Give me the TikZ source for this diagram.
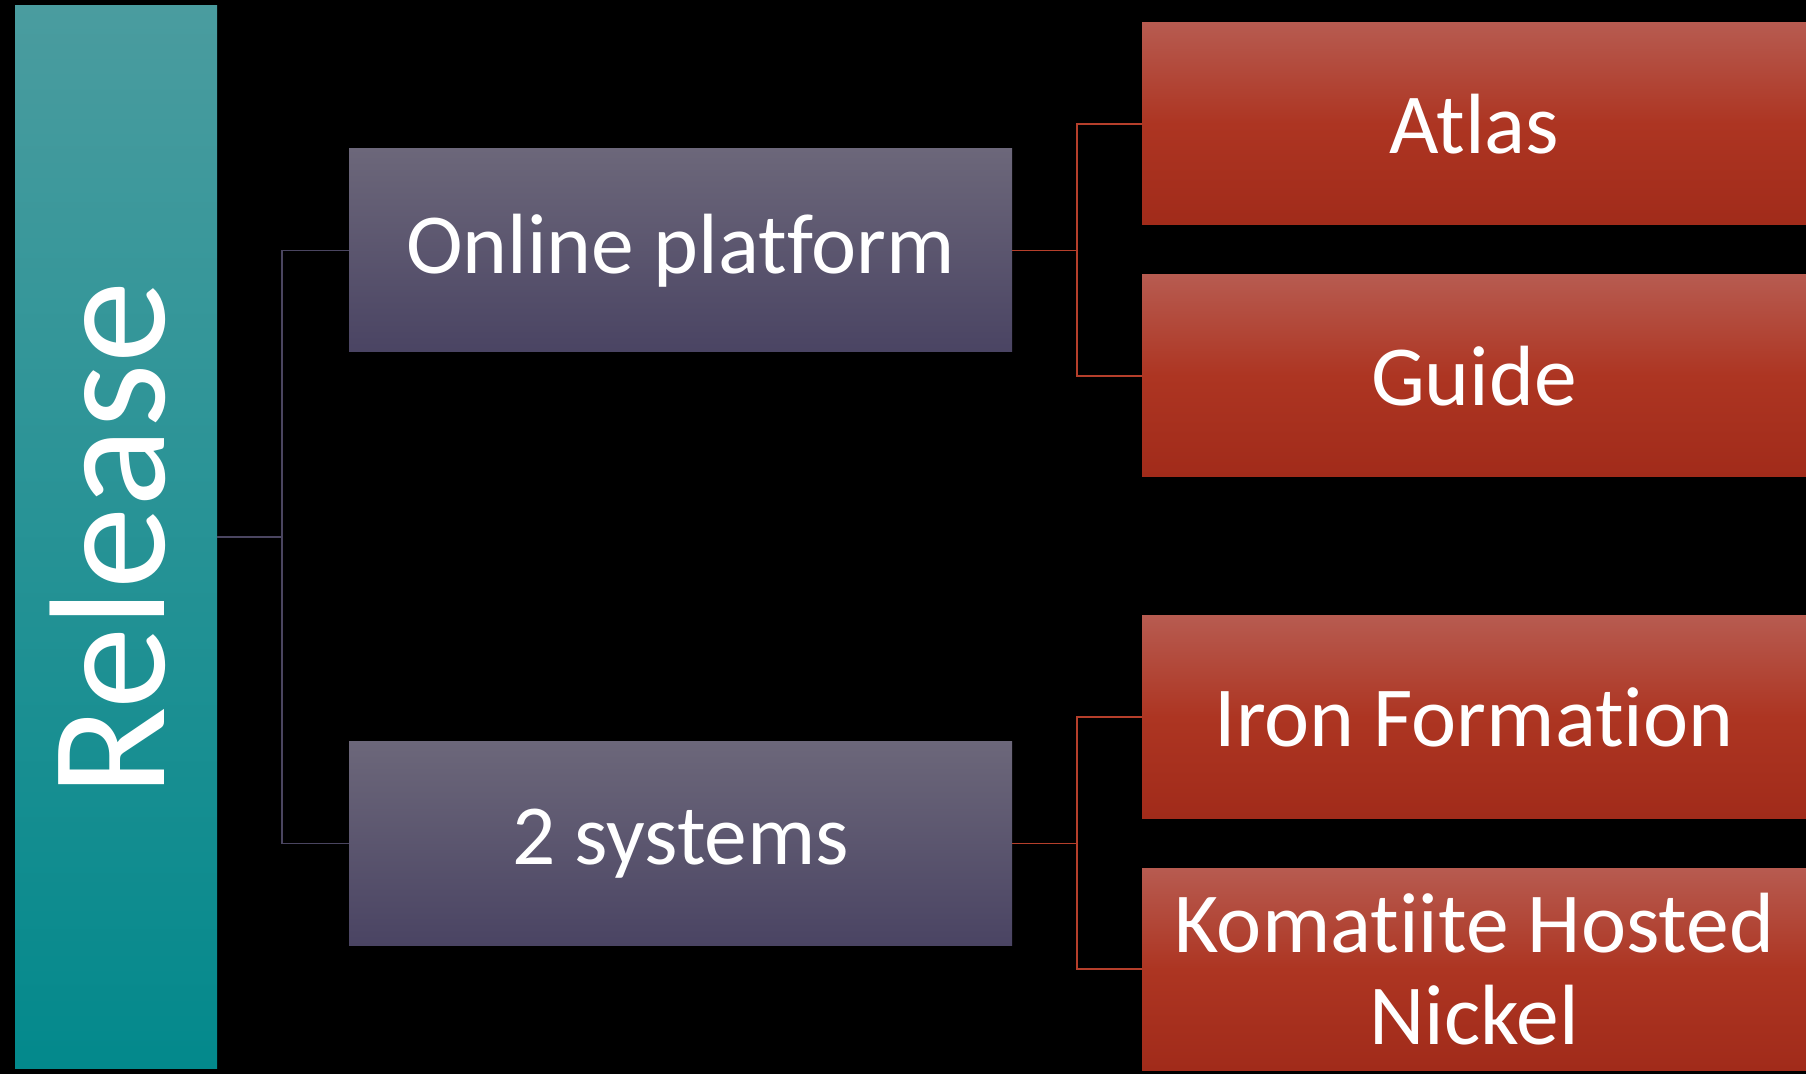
\documentclass[tikz,border=0pt]{standalone}
\usepackage{fontspec}
\setmainfont{Carlito}[Ligatures={NoCommon}]
\definecolor{tealtop}{HTML}{4A9C9F}
\definecolor{tealbot}{HTML}{03898C}
\definecolor{purtop}{HTML}{6C677A}
\definecolor{purbot}{HTML}{4A4463}
\definecolor{redtop}{HTML}{B75B50}
\definecolor{redmid}{HTML}{AD3522}
\definecolor{redbot}{HTML}{A12B1A}
\definecolor{purline}{HTML}{4A4560}
\definecolor{redline}{HTML}{B53F2B}
\tikzset{
  box/.style={rectangle, inner sep=0pt, text=white, align=center,
    font=\fontsize{85.5}{92}\selectfont},
  relbox/.style={box, top color=tealtop, bottom color=tealbot,
    minimum width=202pt, minimum height=1062pt},
  midbox/.style={box, top color=purtop, bottom color=purbot,
    minimum width=663pt, minimum height=203pt},
  leafbox/.style={box, top color=redtop, bottom color=redbot, middle color=redmid,
    minimum width=664pt, minimum height=202pt},
  purconn/.style={draw=purline, line width=1.8pt},
  redconn/.style={draw=redline, line width=1.8pt}
}
\begin{document}
\begin{tikzpicture}[x=1pt,y=1pt]
\fill[black] (0,0) rectangle (1806,1074);
\useasboundingbox (0,0) rectangle (1806,1074);
\node[relbox] (rel) at (116,537) {};
\node[text=white, rotate=90, inner sep=0pt, font=\fontsize{165}{170}\selectfont] (reltext) at (108,535) {Release};
\node[midbox] (op) at (680.5,823.5) {Online platform};
\node[midbox] (sys) at (680.5,230.5) {2 systems};
\node[leafbox] (atlas) at (1474,950) {Atlas};
\node[leafbox] (guide) at (1474,698) {Guide};
\node[leafbox] (iron) at (1474,357) {Iron Formation};
\node[leafbox] (koma) at (1474,105) {Komatiite Hosted\\Nickel};
\coordinate (j1) at ([xshift=65pt]rel.east);
\coordinate (j2) at ([xshift=65pt]op.east);
\coordinate (j3) at ([xshift=65pt]sys.east);
\draw[purconn] (rel.east) -- (j1) |- (op.west);
\draw[purconn] (j1) |- (sys.west);
\draw[redconn] (op.east) -- (j2) |- (atlas.west);
\draw[redconn] (j2) |- (guide.west);
\draw[redconn] (sys.east) -- (j3) |- (iron.west);
\draw[redconn] (j3) |- (koma.west);
\end{tikzpicture}
\end{document}
